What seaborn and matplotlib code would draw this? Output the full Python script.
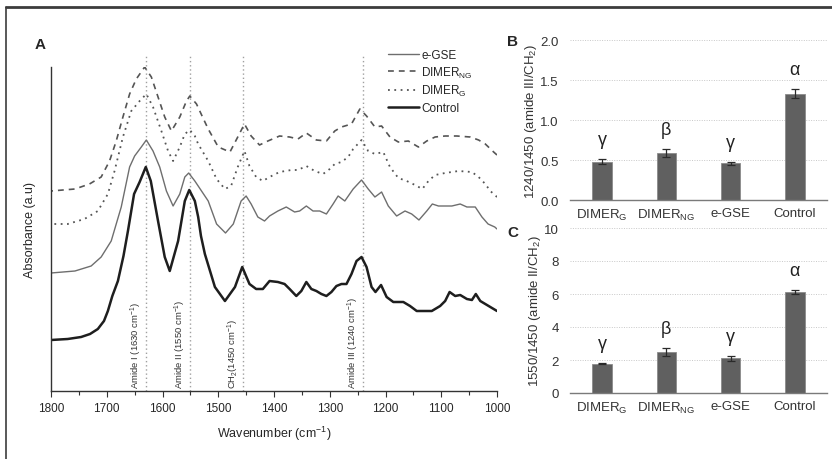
import matplotlib
matplotlib.use("Agg")
import pandas as pd
import seaborn as sns
import matplotlib.pyplot as plt
from matplotlib.lines import Line2D

sns.set_theme(style="white")
plt.rcParams["font.family"] = ["Liberation Sans", "DejaVu Sans"]
plt.rcParams["mathtext.default"] = "regular"

# ---------------------------------------------------------
# Spectra (absorbance in arbitrary units, offset per sample)
# ---------------------------------------------------------
control_wn = [1800, 1770, 1746, 1730, 1716, 1705, 1698, 1690, 1680, 1670, 1662, 1651, 1641, 1630,
              1621, 1608, 1596, 1587, 1572, 1560, 1552, 1542, 1536, 1531, 1524, 1506, 1488,
              1470, 1457, 1444, 1432, 1420, 1408, 1393, 1381, 1372, 1360, 1351, 1342, 1333,
              1324, 1315, 1306, 1297, 1288, 1279, 1270, 1261, 1252, 1243, 1234, 1225, 1218,
              1208, 1198, 1186, 1168, 1156, 1144, 1117, 1102, 1093, 1085, 1075, 1066, 1054,
              1045, 1038, 1030, 1021, 1006, 1000]
control_abs = [51, 52, 54, 57, 62, 70, 80, 95, 110, 135, 160, 197, 209, 224,
               210, 170, 134, 120, 150, 190, 201, 190, 174, 155, 137, 104, 90,
               104, 124, 107, 102, 102, 110, 109, 107, 102, 95, 100, 109, 102,
               100, 97, 95, 99, 105, 107, 107, 117, 130, 134, 124, 104, 99,
               106, 94, 89, 89, 85, 80, 80, 85, 90, 99, 95, 96, 92,
               91, 97, 90, 87, 82, 80]

egse_wn = [1800, 1757, 1728, 1710, 1692, 1674, 1659, 1650, 1638, 1629, 1617, 1605, 1593, 1581,
           1569, 1560, 1553, 1542, 1536, 1518, 1503, 1487, 1473, 1459, 1450, 1441, 1429, 1417,
           1408, 1393, 1378, 1363, 1354, 1342, 1330, 1318, 1306, 1294, 1285, 1273, 1258, 1243,
           1231, 1219, 1207, 1195, 1180, 1165, 1153, 1140, 1126, 1116, 1105, 1093, 1081, 1066,
           1054, 1039, 1027, 1016, 1004, 1000]
egse_abs = [118, 120, 125, 134, 150, 184, 224, 235, 244, 251, 240, 224, 200, 185,
            197, 214, 218, 210, 205, 190, 167, 158, 167, 190, 195, 187, 174, 170,
            175, 180, 184, 179, 180, 185, 180, 180, 177, 187, 195, 190, 202, 211,
            202, 194, 199, 185, 175, 180, 177, 171, 180, 187, 185, 185, 185, 187,
            184, 184, 174, 167, 164, 162]

dimer_g_wn = [1800, 1770, 1740, 1716, 1698, 1686, 1671, 1656, 1641, 1629, 1617, 1602, 1590, 1581,
              1569, 1560, 1551, 1542, 1536, 1518, 1503, 1488, 1477, 1465, 1453, 1444, 1432,
              1420, 1408, 1390, 1369, 1357, 1342, 1327, 1312, 1300, 1291, 1279, 1267, 1258,
              1243, 1231, 1219, 1204, 1192, 1177, 1162, 1147, 1134, 1123, 1111, 1093, 1069,
              1045, 1033, 1021, 1012, 1000]
dimer_g_abs = [167, 167, 172, 180, 197, 220, 254, 280, 290, 297, 284, 260, 240, 230,
               244, 257, 261, 255, 247, 230, 212, 202, 205, 224, 240, 225, 214,
               210, 214, 219, 221, 221, 225, 220, 217, 222, 227, 229, 234, 242,
               251, 240, 237, 239, 224, 213, 210, 206, 202, 210, 216, 218, 220,
               219, 214, 207, 200, 194]

dimer_ng_wn = [1800, 1757, 1731, 1710, 1695, 1683, 1671, 1659, 1647, 1632, 1620, 1608, 1596,
               1584, 1569, 1557, 1551, 1539, 1529, 1518, 1500, 1479, 1465, 1453, 1441, 1426,
               1411, 1390, 1372, 1357, 1342, 1324, 1306, 1291, 1279, 1261, 1246, 1234, 1219,
               1207, 1192, 1177, 1159, 1141, 1126, 1111, 1093, 1072, 1048, 1033, 1021, 1006, 1000]
dimer_ng_abs = [200, 202, 207, 214, 230, 250, 274, 297, 312, 324, 314, 294, 274,
                260, 274, 290, 295, 287, 275, 262, 244, 239, 254, 267, 255, 246,
                250, 255, 254, 252, 258, 251, 250, 260, 264, 267, 282, 275, 264,
                265, 254, 249, 250, 244, 250, 254, 255, 255, 254, 251, 247, 239, 236]

band_pos = [1630, 1550, 1456, 1240]
band_labels = ["Amide I (1630 cm$^{-1}$)", "Amide II (1550 cm$^{-1}$)",
               "CH$_2$(1450 cm$^{-1}$)", "Amide III (1240 cm$^{-1}$)"]

# ---------------------------------------------------------
# Band ratios
# ---------------------------------------------------------
groups = ["DIMER$_G$", "DIMER$_{NG}$", "e-GSE", "Control"]
ratio_1240 = [0.48, 0.59, 0.46, 1.33]
ratio_1240_err = [0.03, 0.05, 0.02, 0.06]
ratio_1550 = [1.78, 2.48, 2.10, 6.15]
ratio_1550_err = [0.05, 0.25, 0.15, 0.12]
letters = ["γ", "β", "γ", "α"]

W, H = 832, 460
fig = plt.figure(figsize=(W / 100, H / 100), dpi=100)

# ---------------------------------------------------------
# Panel A: spectra
# ---------------------------------------------------------
ax = fig.add_axes([51 / W, 1 - 392 / H, 446 / W, 324 / H])
series = [
    ("e-GSE", egse_wn, egse_abs, "#6e6e6e", "-", 1.0),
    ("DIMER$_{NG}$", dimer_ng_wn, dimer_ng_abs, "#555555", (0, (3.5, 3)), 1.2),
    ("DIMER$_G$", dimer_g_wn, dimer_g_abs, "#555555", (0, (1, 2.5)), 1.3),
    ("Control", control_wn, control_abs, "#1e1e1e", "-", 1.8),
]
for name, wn, ab, col, ls, lw in series:
    sns.lineplot(x=wn, y=ab, ax=ax, color=col, linestyle=ls, linewidth=lw,
                 label=name, estimator=None)

ax.vlines(band_pos, 0, 335, colors="#a0a0a0", linestyles=(0, (1, 2)),
          linewidth=1, clip_on=False, zorder=0)
for pos, lab in zip(band_pos, band_labels):
    ax.text(pos + 4, 3, lab, rotation=90, ha="right", va="bottom",
            fontsize=6.8, color="#333333")

ax.set_xlim(1800, 1000)
ax.set_ylim(0, 324)
ax.set_xticks(range(1800, 999, -100))
ax.set_xticks(range(1750, 1000, -100), minor=True)
ax.set_yticks([])
ax.tick_params(axis="x", which="major", direction="out", length=4, width=0.8,
               bottom=True, labelsize=8.5, pad=4, color="#333333")
ax.tick_params(axis="x", which="minor", direction="out", length=3, width=0.8,
               bottom=True, color="#333333")
for side in ["top", "right"]:
    ax.spines[side].set_visible(False)
for side in ["left", "bottom"]:
    ax.spines[side].set_color("#333333")
    ax.spines[side].set_linewidth(1.0)
ax.set_xlabel("Wavenumber (cm$^{-1}$)", fontsize=9, labelpad=7)
ax.set_ylabel("Absorbance (a.u)", fontsize=9, labelpad=11)
ax.legend(loc="upper left", bbox_to_anchor=(388 / W, 1 - 50 / H),
          bbox_transform=fig.transFigure, frameon=False, fontsize=8.5,
          handlelength=2.6, labelspacing=0.3, handletextpad=0.2,
          borderpad=0, borderaxespad=0)


# ---------------------------------------------------------
# Panels B and C: bar charts
# ---------------------------------------------------------
def bar_panel(ax, vals, errs, ymax, ticks, fmt, ylabel):
    df = pd.DataFrame({"group": groups, "value": vals})
    sns.barplot(data=df, x="group", y="value", ax=ax, color="#606060",
                saturation=1, width=0.3, edgecolor="#8a8a8a", linewidth=0.6,
                errorbar=None)
    ax.errorbar(range(len(vals)), vals, yerr=errs, fmt="none", ecolor="#2a2a2a",
                elinewidth=0.9, capsize=3, capthick=0.9)
    for i, (v, e, l) in enumerate(zip(vals, errs, letters)):
        ax.annotate(l, (i, v + e), xytext=(0, 14), textcoords="offset points",
                    ha="center", va="center", fontsize=13, color="#222222")
    ax.set_xlim(-0.5, len(vals) - 0.5)
    ax.set_ylim(0, ymax)
    ax.set_yticks(ticks)
    ax.set_yticklabels([fmt.format(t) for t in ticks])
    ax.yaxis.grid(True, color="#c8c8c8", linestyle=(0, (1, 1.5)), linewidth=0.7)
    ax.set_axisbelow(True)
    ax.tick_params(axis="both", length=0, labelsize=9.5, colors="#333333")
    ax.tick_params(axis="y", pad=8)
    ax.tick_params(axis="x", pad=5)
    for side in ["top", "right", "left"]:
        ax.spines[side].set_visible(False)
    ax.spines["bottom"].set_color("#7a7a7a")
    ax.spines["bottom"].set_linewidth(1.0)
    ax.set_xlabel("")
    ax.set_ylabel(ylabel, fontsize=9.5, color="#333333", labelpad=1)


axb = fig.add_axes([570 / W, 1 - 201 / H, 257 / W, 160 / H])
bar_panel(axb, ratio_1240, ratio_1240_err, 2.0, [0.0, 0.5, 1.0, 1.5, 2.0], "{:.1f}",
          "1240/1450 (amide III/CH$_2$)")
axc = fig.add_axes([570 / W, 1 - 394 / H, 257 / W, 165 / H])
bar_panel(axc, ratio_1550, ratio_1550_err, 10, [0, 2, 4, 6, 8, 10], "{:d}",
          "1550/1450 (amide II/CH$_2$)")

fig.text(40 / W, 1 - 45 / H, "A", weight="bold", fontsize=11, ha="center", va="center")
fig.text(513 / W, 1 - 42 / H, "B", weight="bold", fontsize=11, ha="center", va="center")
fig.text(513 / W, 1 - 233 / H, "C", weight="bold", fontsize=11, ha="center", va="center")

# outer frame (top and left edges visible in the original)
fig.add_artist(Line2D([6 / W, 1], [1 - 8 / H, 1 - 8 / H], transform=fig.transFigure,
                      color="#3c3c3c", linewidth=2))
fig.add_artist(Line2D([6 / W, 6 / W], [0, 1 - 8 / H], transform=fig.transFigure,
                      color="#3c3c3c", linewidth=1.2))

fig.savefig("out.png", dpi=100)
